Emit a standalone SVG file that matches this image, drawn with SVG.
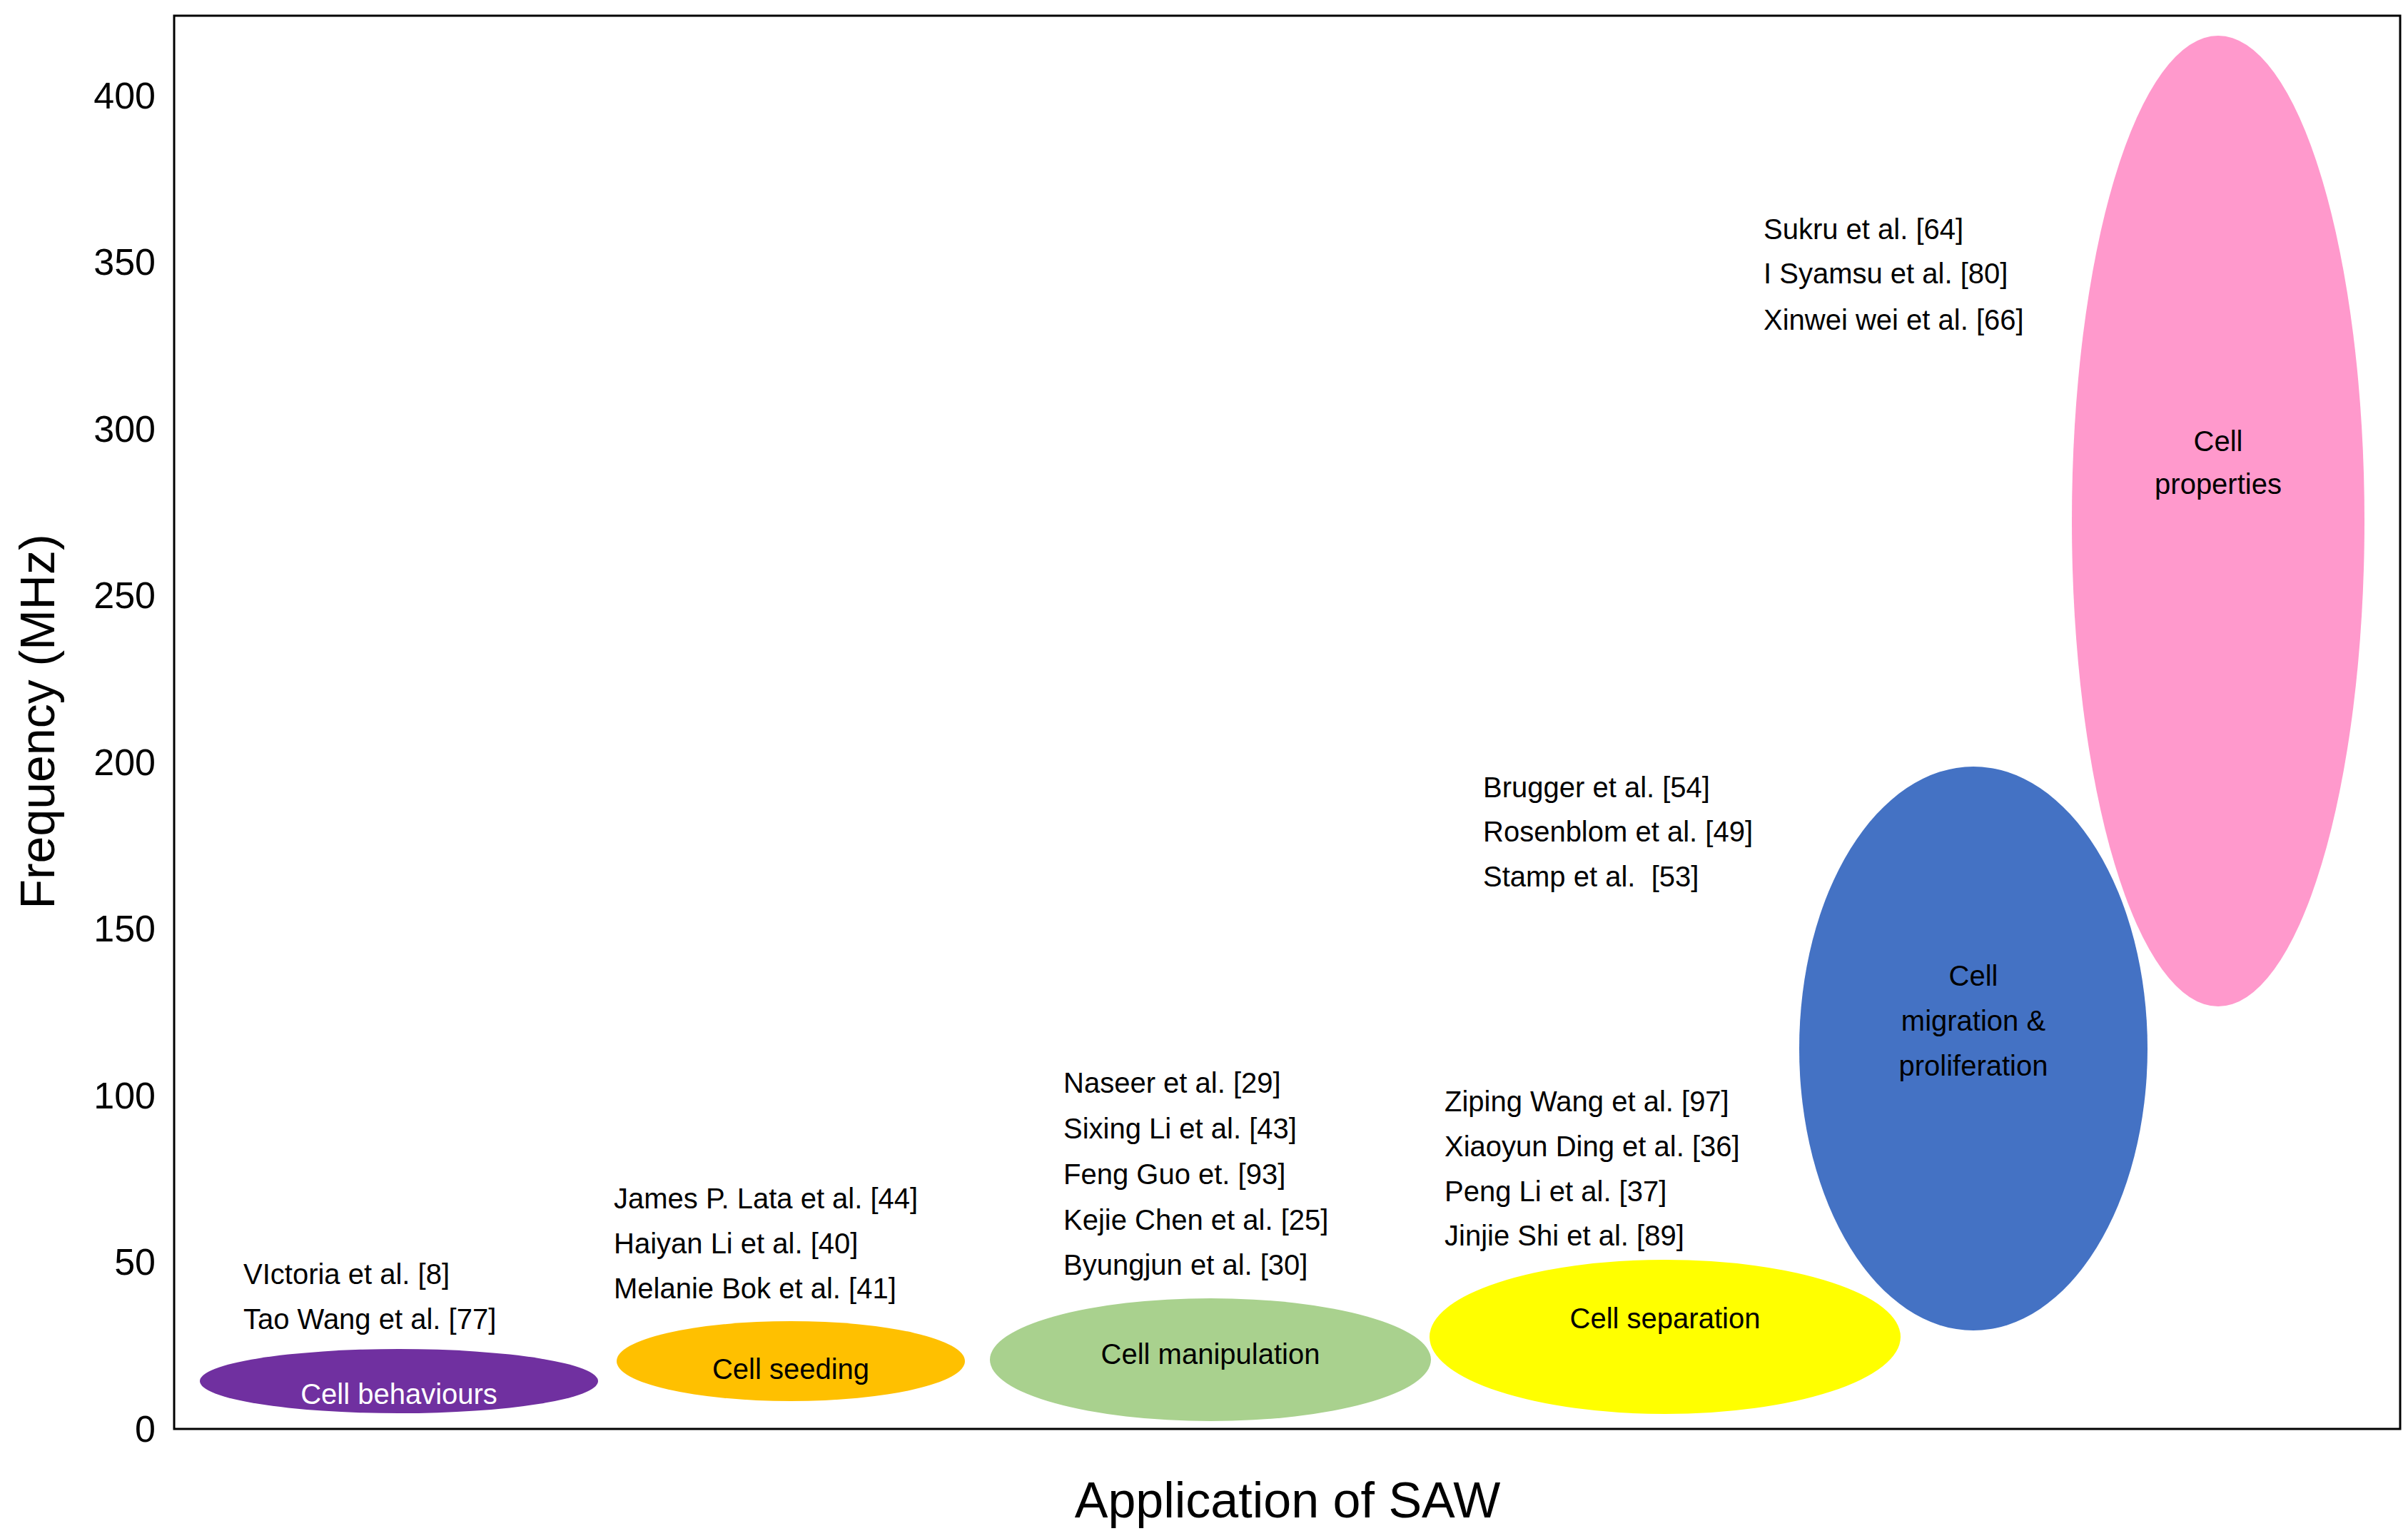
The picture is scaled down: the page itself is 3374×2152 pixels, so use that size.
<svg xmlns="http://www.w3.org/2000/svg" width="3374" height="2152" viewBox="0 0 3374 2152">
<style>
.t{font-family:"Liberation Sans",Arial,sans-serif;font-size:40px;fill:#000}
.c{text-anchor:middle}
.ax{font-family:"Liberation Sans",Arial,sans-serif;font-size:52px;fill:#000;text-anchor:end}
</style>
<rect x="0" y="0" width="3374" height="2152" fill="#fff"/>
<rect x="244" y="22" width="3119" height="1980" fill="none" stroke="#000" stroke-width="3"/>
<g id="yaxis">
<text class="ax" x="218" y="2020">0</text>
<text class="ax" x="218" y="1786">50</text>
<text class="ax" x="218" y="1553">100</text>
<text class="ax" x="218" y="1319">150</text>
<text class="ax" x="218" y="1086">200</text>
<text class="ax" x="218" y="852">250</text>
<text class="ax" x="218" y="619">300</text>
<text class="ax" x="218" y="385">350</text>
<text class="ax" x="218" y="152">400</text>
<text font-family="Liberation Sans,Arial,sans-serif" font-size="68" text-anchor="middle" transform="translate(76,1011) rotate(-90)">Frequency (MHz)</text>
<text font-family="Liberation Sans,Arial,sans-serif" font-size="70" text-anchor="middle" x="1804" y="2126">Application of SAW</text>
</g>
<g id="behaviours"><ellipse cx="559" cy="1935" rx="279" ry="45" fill="#7030A0"/><text class="t c" x="559" y="1967" style="fill:#fff">Cell behaviours</text></g>
<g id="seeding"><ellipse cx="1108" cy="1907" rx="244" ry="56" fill="#FFC000"/><text class="t c" x="1108" y="1932">Cell seeding</text></g>
<g id="manipulation"><ellipse cx="1696" cy="1905" rx="309" ry="86" fill="#A9D18E"/><text class="t c" x="1696" y="1911">Cell manipulation</text></g>
<g id="separation"><ellipse cx="2333" cy="1873" rx="330" ry="108" fill="#FFFF00"/><text class="t c" x="2333" y="1861">Cell separation</text></g>
<g id="migration"><ellipse cx="2765" cy="1469" rx="244" ry="395" fill="#4472C4"/><text class="t c" x="2765" y="1381">Cell</text><text class="t c" x="2765" y="1444">migration &amp;</text><text class="t c" x="2765" y="1507">proliferation</text></g>
<g id="properties"><ellipse cx="3108" cy="730" rx="205" ry="680" fill="#FF99CC"/><text class="t c" x="3108" y="632">Cell</text><text class="t c" x="3108" y="692">properties</text></g>
<g id="refs1"><text class="t" x="341" y="1799">VIctoria et al. [8]</text><text class="t" x="341" y="1862">Tao Wang et al. [77]</text></g>
<g id="refs2"><text class="t" x="860" y="1693">James P. Lata et al. [44]</text><text class="t" x="860" y="1756">Haiyan Li et al. [40]</text><text class="t" x="860" y="1819">Melanie Bok et al. [41]</text></g>
<g id="refs3"><text class="t" x="1490" y="1531">Naseer et al. [29]</text><text class="t" x="1490" y="1595">Sixing Li et al. [43]</text><text class="t" x="1490" y="1659">Feng Guo et. [93]</text><text class="t" x="1490" y="1723">Kejie Chen et al. [25]</text><text class="t" x="1490" y="1786">Byungjun et al. [30]</text></g>
<g id="refs4"><text class="t" x="2024" y="1557">Ziping Wang et al. [97]</text><text class="t" x="2024" y="1620">Xiaoyun Ding et al. [36]</text><text class="t" x="2024" y="1683">Peng Li et al. [37]</text><text class="t" x="2024" y="1745">Jinjie Shi et al. [89]</text></g>
<g id="refs5"><text class="t" x="2078" y="1117">Brugger et al. [54]</text><text class="t" x="2078" y="1179">Rosenblom et al. [49]</text><text class="t" x="2078" y="1242" xml:space="preserve">Stamp et al.  [53]</text></g>
<g id="refs6"><text class="t" x="2471" y="335">Sukru et al. [64]</text><text class="t" x="2471" y="397">I Syamsu et al. [80]</text><text class="t" x="2471" y="462">Xinwei wei et al. [66]</text></g>
<g id="connectors"/>
</svg>
